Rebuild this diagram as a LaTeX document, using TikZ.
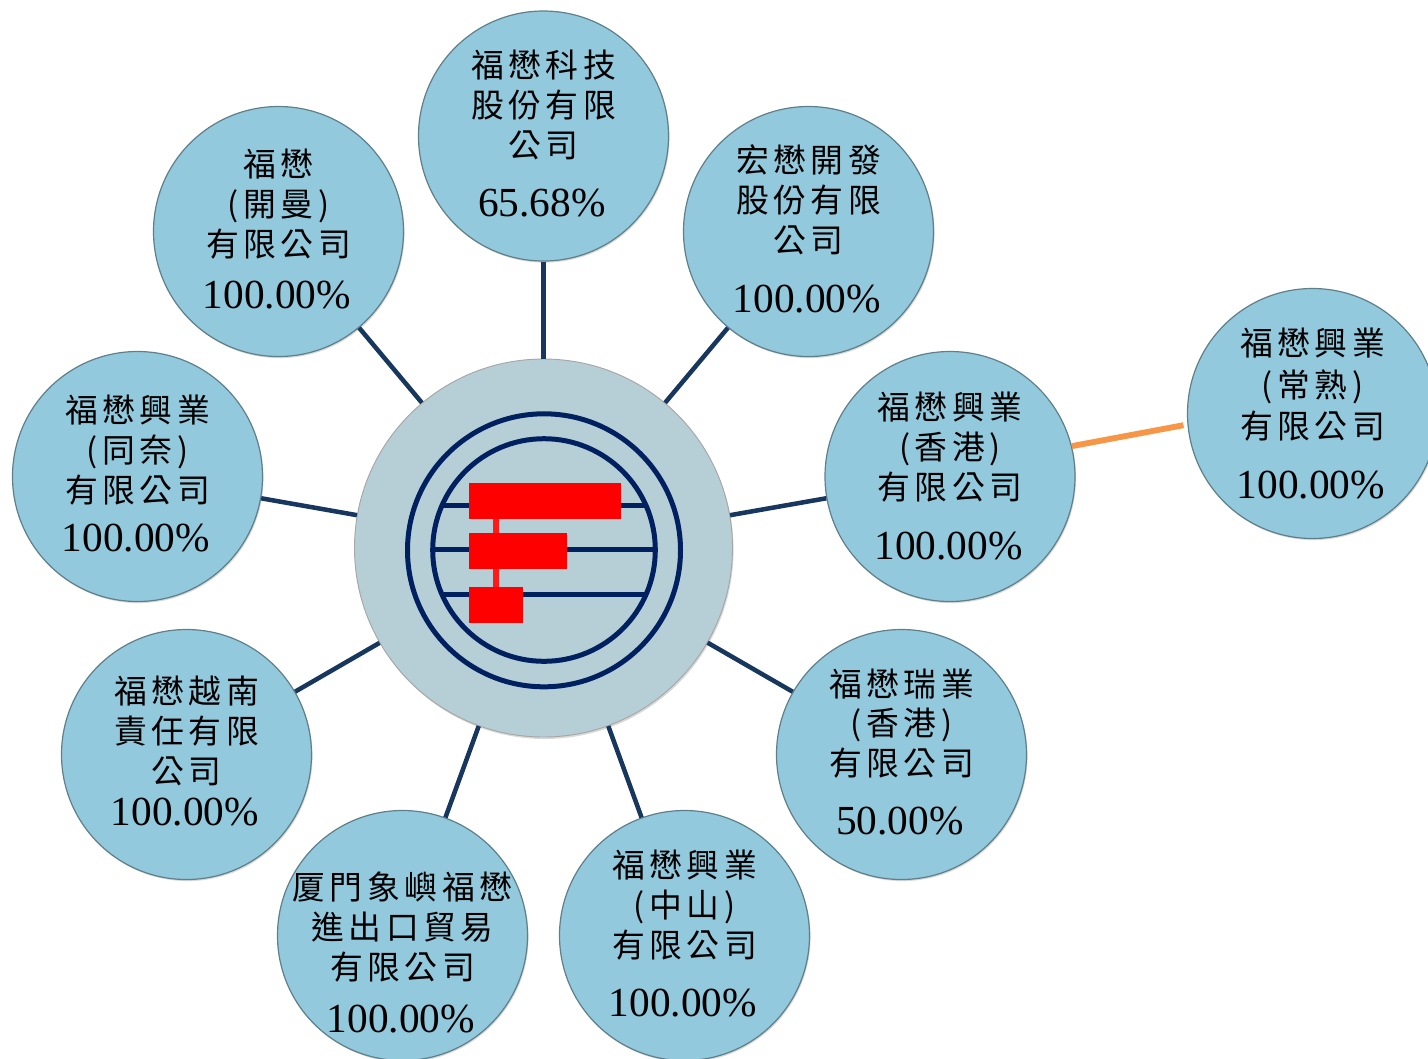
\documentclass[tikz,border=0pt]{standalone}
\usepackage{fontspec}
\usetikzlibrary{shadows}
\setmainfont{Liberation Serif}
\newfontfamily\cjk[LetterSpace=14]{Noto Sans CJK TC}
\definecolor{bubfill}{HTML}{92C9DC}
\definecolor{bubline}{HTML}{5F7F8A}
\definecolor{hubfill}{HTML}{B6CFD6}
\definecolor{link}{HTML}{17375E}
\definecolor{linkb}{HTML}{F79646}
\definecolor{navy}{HTML}{002060}
% one text line, placed by its vertical offset (px) from the centre of the bubble
\newcommand\cjkline[2]{\makebox[0pt][c]{\raisebox{\dimexpr-#1pt*3/4-9.3pt\relax}[0pt][0pt]{\fontsize{24.6}{25}\selectfont\cjk #2}}}
\newcommand\pctline[2]{\makebox[0pt][c]{\raisebox{\dimexpr-#1pt*3/4-10pt\relax}[0pt][0pt]{\fontsize{31}{31}\selectfont #2\kern2.2pt}}}
\newcommand\four[8]{\cjkline{#1}{#5}\cjkline{#2}{#6}\cjkline{#3}{#7}\pctline{#4}{#8}}
\tikzset{
  bub/.style={circle,inner sep=0pt,minimum size=187.5pt,fill=bubfill,draw=bubline,line width=0.9pt,
    drop shadow={shadow xshift=0.8pt,shadow yshift=-1.2pt,opacity=.3,fill=gray}},
  hub/.style={circle,inner sep=0pt,minimum size=283.5pt,fill=hubfill,draw=gray!70,line width=0.7pt,
    drop shadow={shadow xshift=0.8pt,shadow yshift=-1.5pt,opacity=.3,fill=gray}},
  spoke/.style={draw=link,line width=3.4pt},
  spokeb/.style={draw=linkb,line width=4.4pt,shorten >=3pt},
  ring/.style={draw=navy,line width=3.75pt},
  bar/.style={draw=none,fill=red}
}
\begin{document}
\begin{tikzpicture}[x=0.75pt,y=-0.75pt]
\useasboundingbox (0,0) rectangle (1428,1058);
% hub and bubbles
\node[hub] (hub) at (543.5,548) {};
\node[bub] (top) at (543.5,136) {\four{-71}{-31}{9}{67}{福懋科技}{股份有限}{公司}{65.68\%}};
\node[bub] (cayman) at (278.5,231.5) {\four{-67}{-27}{13}{64}{福懋}{(開曼)}{有限公司}{100.00\%}};
\node[bub] (hong) at (808.5,231.5) {\four{-71}{-31}{9}{68}{宏懋開發}{股份有限}{公司}{100.00\%}};
\node[bub] (tongnai) at (137.5,476.5) {\four{-66}{-26}{14}{62}{福懋興業}{(同奈)}{有限公司}{100.00\%}};
\node[bub] (hk) at (950,476.5) {\four{-69}{-29}{11}{70}{福懋興業}{(香港)}{有限公司}{100.00\%}};
\node[bub] (changshu) at (1312.5,413.5) {\four{-70}{-28}{13}{72}{福懋興業}{(常熟)}{有限公司}{100.00\%}};
\node[bub] (ruiye) at (901.5,754.5) {\four{-70}{-31}{9}{67}{福懋瑞業}{(香港)}{有限公司}{50.00\%}};
\node[bub] (zs) at (684.5,935.5) {\four{-70}{-30}{10}{68}{福懋興業}{(中山)}{有限公司}{100.00\%}};
\node[bub] (xm) at (402.5,935.5) {\four{-48}{-8}{32}{84}{厦門象嶼福懋}{進出口貿易}{有限公司}{100.00\%}};
\node[bub] (vn) at (186.5,754.5) {\four{-63}{-23}{17}{58}{福懋越南}{責任有限}{公司}{100.00\%}};
% connectors
\foreach \n in {top,cayman,hong,tongnai,hk,ruiye,zs,xm,vn}
  \draw[spoke] (hub) -- (\n);
\draw[spokeb] (hk.14) -- (changshu.185);
% logo
\draw[ring] (544,550.3) circle (136.5);
\draw[ring] (544,550) circle (111.3);
\draw[ring] (442.5,505) -- (645.5,505);
\draw[ring] (433,549.7) -- (655,549.7);
\draw[ring] (442.5,594.3) -- (645.5,594.3);
\fill[red!90!white] (493,519) rectangle (498.5,587);
\fill[bar] (469,483) rectangle (621,519);
\fill[bar] (469,533) rectangle (567,569);
\fill[bar] (469,587) rectangle (523,623);
\end{tikzpicture}
\end{document}
